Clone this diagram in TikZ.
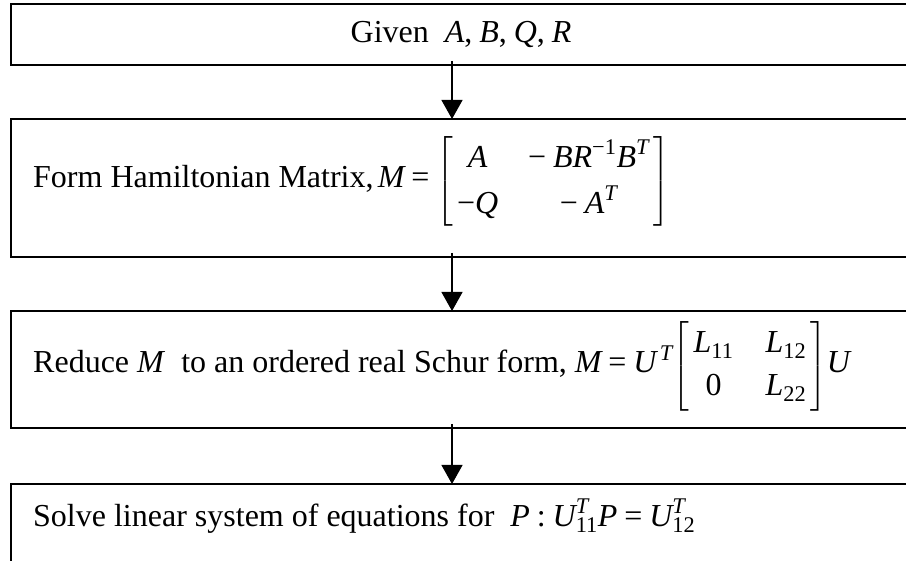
\documentclass[tikz,border=0pt]{standalone}
\usepackage{amsmath}
\usepackage{fontspec}
\setmainfont{Liberation Serif}
\usetikzlibrary{arrows.meta,calc}
\newcommand\vi[1]{\text{\itshape #1}}
\newcommand\vr[1]{\text{#1}}
\newcommand\meq{\mathrel{\text{=}}}
\newcommand\um{\text{−}}
\newcommand\cm{\text{,}\;}
\begin{document}
\begin{tikzpicture}[x=1pt,y=-1pt,
  font=\fontsize{32}{38}\selectfont,
  box/.style={draw, line width=1.8pt, minimum width=900pt, anchor=north west, inner sep=0pt, outer sep=0pt},
  arr/.style={line width=1.2pt, -{Triangle[length=19pt,width=21pt]}},
  lbl/.style={inner sep=0pt, anchor=base west}]
\fill[white] (0,0) rectangle (906,561);
\useasboundingbox (0,0) rectangle (906,561);
\node[box, minimum height=61pt] (b1) at (11,4) {};
\node[box, minimum height=138pt] (b2) at (11,119) {};
\node[box, minimum height=117pt] (b3) at (11,311) {};
\node[box, minimum height=110pt] (b4) at (11,484) {};
\draw[arr] ($(b1.south west)+(441,-4)$) -- ($(b2.north west)+(441,0)$);
\draw[arr] ($(b2.south west)+(441,-4)$) -- ($(b3.north west)+(441,0)$);
\draw[arr] ($(b3.south west)+(441,-4)$) -- ($(b4.north west)+(441,0)$);
\node[lbl, anchor=base] (t1) at (461,43) {Given\ \ $\vi{A}\cm\vi{B}\cm\vi{Q}\cm\vi{R}$};
\node[lbl] (t2) at (33,188) {\delimiterfactor=1000 \delimitershortfall=0pt \renewcommand\arraystretch{1.105}Form Hamiltonian Matrix,$\,\vi{M} \meq \left[\begin{array}{@{\,}c@{\hspace{30pt}}c@{\,}} \vi{A} & \um\;\vi{B}\vi{R}^{\um\vr{1}}\vi{B}^{\vi{T}} \\[4pt] \um\vi{Q} & \um\;\vi{A}^{\vi{T}} \end{array}\right]$};
\node[lbl] (t3) at (33,373) {\delimiterfactor=1000 \delimitershortfall=0pt \renewcommand\arraystretch{0.895}Reduce \textit{M}\ \ to an ordered real Schur form, $\vi{M} \meq \vi{U}^{\,\vi{T}}\!\left[\begin{array}{@{\,}c@{\hspace{32pt}}c@{\,}} \vi{L}_{\vr{11}} & \vi{L}_{\vr{12}} \\[9pt] \vr{0} & \vi{L}_{\vr{22}}\end{array}\right]\!\vi{U}$};
\node[lbl] (t4) at (33,526) {Solve linear system of equations for\ \ $\vi{P} \mathrel{\text{:}} \vi{U}^{\vi{T}}_{\vr{11}}\vi{P} \meq \vi{U}^{\vi{T}}_{\vr{12}}$};
\end{tikzpicture}
\end{document}
